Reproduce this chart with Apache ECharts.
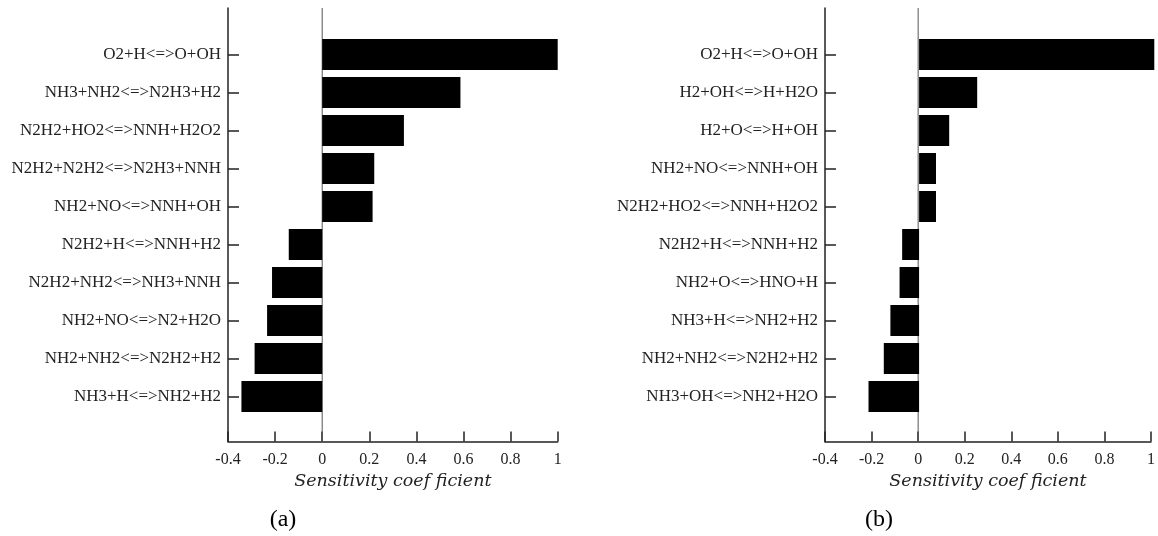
<!DOCTYPE html>
<html>
<head>
<meta charset="utf-8">
<script src="https://cdn.jsdelivr.net/npm/echarts@6/dist/echarts.min.js"></script>
<style>html,body{margin:0;padding:0;background:#fff}#c{width:1158px;height:536px}</style>
</head>
<body>
<div id="c"></div>
<script>
// Panel (a)
const catsA = ['O2+H<=>O+OH','NH3+NH2<=>N2H3+H2','N2H2+HO2<=>NNH+H2O2','N2H2+N2H2<=>N2H3+NNH','NH2+NO<=>NNH+OH','N2H2+H<=>NNH+H2','N2H2+NH2<=>NH3+NNH','NH2+NO<=>N2+H2O','NH2+NH2<=>N2H2+H2','NH3+H<=>NH2+H2'];
const valsA = [1.0, 0.587, 0.347, 0.221, 0.214, -0.142, -0.213, -0.234, -0.287, -0.343];
// Panel (b)
const catsB = ['O2+H<=>O+OH','H2+OH<=>H+H2O','H2+O<=>H+OH','NH2+NO<=>NNH+OH','N2H2+HO2<=>NNH+H2O2','N2H2+H<=>NNH+H2','NH2+O<=>HNO+H','NH3+H<=>NH2+H2','NH2+NH2<=>N2H2+H2','NH3+OH<=>NH2+H2O'];
const valsB = [1.0, 0.247, 0.128, 0.072, 0.072, -0.072, -0.083, -0.122, -0.150, -0.215];
const xMin = -0.4, xMax = 1, xStep = 0.2;
const axisName = 'Sensitivity coef ficient';
const panelLabels = ['(a)', '(b)'];

const AX = '#222';
const panels = [
  {left: 228, right: 1158 - 557.7, cats: catsA, vals: valsA, labelX: 283},
  {left: 825, right: 1158 - 1154.3, cats: catsB, vals: valsB, labelX: 879}
];
const grid = [], xAxis = [], yAxis = [], series = [], title = [];
panels.forEach((p, i) => {
  grid.push({left: p.left, right: p.right, top: 8, bottom: 94.5});
  grid.push({left: p.left, right: p.right, top: 35.5, bottom: 120.5});
  const gf = 2 * i, gb = 2 * i + 1;
  xAxis.push({
    type: 'value', gridIndex: gf, min: xMin, max: xMax, interval: xStep,
    axisLine: {show: true, onZero: false, lineStyle: {color: AX, width: 1.5}},
    axisTick: {show: true, inside: true, length: 10, lineStyle: {color: AX, width: 1.5}},
    axisLabel: {show: true, margin: 10, color: '#222', fontFamily: 'Liberation Serif', fontSize: 16,
      formatter: v => String(Math.round(v * 10) / 10)},
    splitLine: {show: false},
    name: axisName, nameLocation: 'middle', nameGap: 28,
    nameTextStyle: {fontFamily: 'DejaVu Serif', fontStyle: 'italic', fontSize: 17.5, color: '#222'}
  });
  xAxis.push({type: 'value', gridIndex: gb, min: xMin, max: xMax, show: false});
  yAxis.push({
    type: 'value', gridIndex: gf, min: 0, max: 1,
    axisLine: {show: true, onZero: false, lineStyle: {color: AX, width: 1.5}},
    axisTick: {show: false}, axisLabel: {show: false}, splitLine: {show: false}
  });
  yAxis.push({
    type: 'category', gridIndex: gb, data: p.cats, inverse: true,
    axisLine: {show: false, onZero: false},
    axisTick: {show: true, inside: true, length: 11, alignWithLabel: true, lineStyle: {color: AX, width: 1.5}},
    axisLabel: {margin: 7, color: '#222', fontFamily: 'Liberation Serif', fontSize: 17}
  });
  series.push({
    type: 'line', xAxisIndex: gf, yAxisIndex: gf, data: [[0, 0], [0, 1]],
    symbol: 'none', silent: true, lineStyle: {color: '#555', width: 1}, z: 1
  });
  series.push({
    type: 'bar', xAxisIndex: gb, yAxisIndex: gb, data: p.vals, barWidth: 31,
    itemStyle: {color: '#000'}, silent: true, z: 2
  });
  title.push({
    text: panelLabels[i], left: p.labelX, top: 508, textAlign: 'center', padding: 0,
    textStyle: {fontFamily: 'Liberation Serif', fontWeight: 'normal', fontSize: 24, color: '#000'}
  });
});
const chart = echarts.init(document.getElementById('c'), null, {renderer: 'canvas'});
chart.setOption({animation: false, backgroundColor: '#fff', title, grid, xAxis, yAxis, series});
</script>
</body>
</html>
